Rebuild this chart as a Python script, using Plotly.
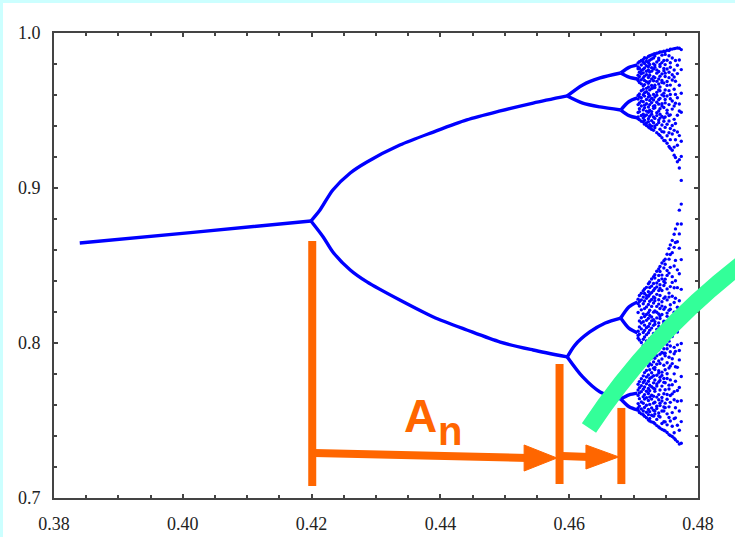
import plotly.graph_objects as go

# ---------------- data ----------------
p1_x = [0.3840, 0.4016, 0.4199]
p1_y = [0.8645, 0.8714, 0.8787]

p2u_x = [0.4199, 0.4213, 0.4233, 0.4260, 0.4286, 0.4337, 0.4389, 0.4441, 0.4493, 0.4544, 0.4597]
p2u_y = [0.8787, 0.8858, 0.8987, 0.9097, 0.9168, 0.9277, 0.9361, 0.9439, 0.9497, 0.9548, 0.9594]
p2l_x = [0.4199, 0.4218, 0.4233, 0.4260, 0.4286, 0.4337, 0.4389, 0.4441, 0.4493, 0.4544, 0.4597]
p2l_y = [0.8787, 0.8684, 0.8587, 0.8471, 0.8394, 0.8277, 0.8168, 0.8084, 0.8006, 0.7955, 0.7910]

p4a_x = [0.4597, 0.4621, 0.4648, 0.4680]
p4a_y = [0.9594, 0.9665, 0.9710, 0.9742]
p4b_x = [0.4597, 0.4621, 0.4648, 0.4680]
p4b_y = [0.9594, 0.9548, 0.9523, 0.9503]
p4c_x = [0.4597, 0.4609, 0.4632, 0.4656, 0.4680]
p4c_y = [0.7910, 0.7987, 0.8071, 0.8129, 0.8161]
p4d_x = [0.4597, 0.4621, 0.4648, 0.4680]
p4d_y = [0.7910, 0.7781, 0.7684, 0.7639]

p8_x = [0.4680, 0.4693, 0.4706]
p8_y = [
    [0.9742, 0.9778, 0.9794],
    [0.9742, 0.9715, 0.9703],
    [0.9503, 0.9558, 0.9581],
    [0.9503, 0.9467, 0.9452],
    [0.8161, 0.8234, 0.8265],
    [0.8161, 0.8094, 0.8065],
    [0.7639, 0.7666, 0.7677],
    [0.7639, 0.7589, 0.7568],
]

cloud_cols = [0.4707, 0.4709, 0.4712, 0.4715, 0.4717, 0.4720, 0.4723, 0.4725, 0.4728, 0.4731,
              0.4733, 0.4736, 0.4739, 0.4741, 0.4744, 0.4747, 0.4749, 0.4752, 0.4755, 0.4757,
              0.4760, 0.4763, 0.4765, 0.4768, 0.4771, 0.4774]
cloud_vals = [
    [0.9806, 0.9781, 0.9769, 0.9728, 0.9704, 0.9693, 0.9597, 0.9574, 0.9538, 0.9487, 0.9459, 0.9446,
     0.8283, 0.8254, 0.8197, 0.8076, 0.8049, 0.8031, 0.7734, 0.7697, 0.7662, 0.7609, 0.7581, 0.7566],
    [0.9815, 0.9773, 0.9747, 0.9719, 0.9681, 0.9607, 0.9589, 0.9548, 0.9512, 0.9493, 0.9441,
     0.8306, 0.8268, 0.8239, 0.8142, 0.8104, 0.8057, 0.8019, 0.7751, 0.7712, 0.7678, 0.7641, 0.7593, 0.7552],
    [0.9823, 0.9794, 0.9758, 0.9737, 0.9698, 0.9672, 0.9627, 0.9583, 0.9561, 0.9529, 0.9468, 0.9431,
     0.8321, 0.8277, 0.8214, 0.8163, 0.8129, 0.8091, 0.8003, 0.7769, 0.7724, 0.7686, 0.7619, 0.7574, 0.7543],
    [0.9829, 0.9811, 0.9766, 0.9743, 0.9711, 0.9658, 0.9636, 0.9602, 0.9556, 0.9504, 0.9476, 0.9452, 0.9426,
     0.8337, 0.8296, 0.8253, 0.8188, 0.8137, 0.8068, 0.8024, 0.7982, 0.7788, 0.7745, 0.7702, 0.7654, 0.7611, 0.7561, 0.7537],
    [0.9841, 0.9803, 0.9774, 0.9722, 0.9694, 0.9667, 0.9615, 0.9593, 0.9534, 0.9517, 0.9463, 0.9437, 0.9412,
     0.8348, 0.8319, 0.8271, 0.8222, 0.8171, 0.8115, 0.8081, 0.8039, 0.7964, 0.7809, 0.7758, 0.7716, 0.7667, 0.7638, 0.7584, 0.7527],
    [0.9837, 0.9818, 0.9789, 0.9753, 0.9731, 0.9686, 0.9643, 0.9621, 0.9571, 0.9544, 0.9496, 0.9471, 0.9419, 0.9403,
     0.8359, 0.8307, 0.8288, 0.8233, 0.8184, 0.8146, 0.8098, 0.8054, 0.8013, 0.7951, 0.7823, 0.7781, 0.7737, 0.7689, 0.7647, 0.7598, 0.7553, 0.7518],
    [0.9849, 0.9809, 0.9782, 0.9761, 0.9713, 0.9676, 0.9652, 0.9608, 0.9587, 0.9523, 0.9489, 0.9447, 0.9428, 0.9394,
     0.8382, 0.8331, 0.8302, 0.8248, 0.8196, 0.8159, 0.8107, 0.8066, 0.7992, 0.7947, 0.7893, 0.7852, 0.7794, 0.7753, 0.7706, 0.7674, 0.7629, 0.7571, 0.7538, 0.7504],
    [0.9853, 0.9824, 0.9797, 0.9748, 0.9727, 0.9688, 0.9633, 0.9596, 0.9565, 0.9538, 0.9502, 0.9463, 0.9409, 0.9387,
     0.8394, 0.8358, 0.8314, 0.8269, 0.8211, 0.8177, 0.8124, 0.8083, 0.8027, 0.7979, 0.7921, 0.7866, 0.7827, 0.7771, 0.7727, 0.7692, 0.7651, 0.7604, 0.7557, 0.7513, 0.7496],
    [0.9858, 0.9832, 0.9776, 0.9754, 0.9703, 0.9661, 0.9642, 0.9579, 0.9551, 0.9493, 0.9476, 0.9434, 0.9398, 0.9378,
     0.8413, 0.8367, 0.8326, 0.8281, 0.8236, 0.8168, 0.8143, 0.8096, 0.8038, 0.7994, 0.7958, 0.7903, 0.7859, 0.7808, 0.7779, 0.7718, 0.7663, 0.7638, 0.7581, 0.7534, 0.7491],
    [0.9863, 0.9839, 0.9801, 0.9767, 0.9718, 0.9692, 0.9647, 0.9604, 0.9568, 0.9527, 0.9514, 0.9458, 0.9421, 0.9372,
     0.8428, 0.8384, 0.8339, 0.8297, 0.8258, 0.8199, 0.8151, 0.8114, 0.8062, 0.8009, 0.7971, 0.7916, 0.7878, 0.7837, 0.7789, 0.7743, 0.7708, 0.7656, 0.7612, 0.7566, 0.7528, 0.7487],
    [0.9866, 0.9851, 0.9793, 0.9779, 0.9712, 0.9663, 0.9648, 0.9587, 0.9531, 0.9518, 0.9449, 0.9401, 0.9388,
     0.8441, 0.8419, 0.8352, 0.8291, 0.8273, 0.8206, 0.8138, 0.8121, 0.8053, 0.7997, 0.7971, 0.7902, 0.7843, 0.7829, 0.7761, 0.7703, 0.7688, 0.7618, 0.7561, 0.7542, 0.7479],
    [0.9869, 0.9813, 0.9762, 0.9741, 0.9688, 0.9617, 0.9598, 0.9553, 0.9486, 0.9467, 0.9409, 0.9357,
     0.8463, 0.8387, 0.8362, 0.8314, 0.8236, 0.8198, 0.8162, 0.8088, 0.8026, 0.7948, 0.7918, 0.7863, 0.7792, 0.7736, 0.7722, 0.7651, 0.7592, 0.7577, 0.7507, 0.7467],
    [0.9873, 0.9838, 0.9826, 0.9752, 0.9703, 0.9671, 0.9632, 0.9569, 0.9541, 0.9497, 0.9438, 0.9423, 0.9346,
     0.8477, 0.8436, 0.8403, 0.8338, 0.8279, 0.8251, 0.8187, 0.8129, 0.8107, 0.8041, 0.7973, 0.7956, 0.7884, 0.7821, 0.7806, 0.7748, 0.7667, 0.7634, 0.7548, 0.7529, 0.7458],
    [0.9877, 0.9797, 0.9784, 0.9721, 0.9652, 0.9627, 0.9578, 0.9512, 0.9476, 0.9451, 0.9379, 0.9338,
     0.8494, 0.8461, 0.8376, 0.8352, 0.8306, 0.8223, 0.8174, 0.8158, 0.8081, 0.8016, 0.7994, 0.7927, 0.7868, 0.7779, 0.7758, 0.7697, 0.7612, 0.7596, 0.7523, 0.7451],
    [0.9878, 0.9857, 0.9809, 0.9736, 0.9694, 0.9681, 0.9601, 0.9544, 0.9529, 0.9462, 0.9406, 0.9364, 0.9324,
     0.8516, 0.8438, 0.8414, 0.8339, 0.8266, 0.8238, 0.8184, 0.8093, 0.8068, 0.8002, 0.7939, 0.7897, 0.7812, 0.7791, 0.7722, 0.7648, 0.7626, 0.7561, 0.7481, 0.7443],
    [0.9882, 0.9823, 0.9771, 0.9757, 0.9677, 0.9612, 0.9593, 0.9519, 0.9452, 0.9431, 0.9361, 0.9306,
     0.8531, 0.8484, 0.8397, 0.8371, 0.8288, 0.8217, 0.8141, 0.8127, 0.8047, 0.7963, 0.7934, 0.7856, 0.7771, 0.7746, 0.7673, 0.7587, 0.7561, 0.7492, 0.7437],
    [0.9881, 0.9862, 0.9796, 0.9741, 0.9719, 0.9632, 0.9571, 0.9549, 0.9458, 0.9391, 0.9305,
     0.8541, 0.8508, 0.8412, 0.8388, 0.8297, 0.8231, 0.8139, 0.8118, 0.8016, 0.7934, 0.7917, 0.7827, 0.7744, 0.7698, 0.7612, 0.7583, 0.7491, 0.7433],
    [0.9889, 0.9824, 0.9768, 0.9687, 0.9662, 0.9594, 0.9502, 0.9483, 0.9411, 0.9337, 0.9289,
     0.8573, 0.8468, 0.8436, 0.8349, 0.8278, 0.8193, 0.8172, 0.8076, 0.7989, 0.7963, 0.7873, 0.7802, 0.7771, 0.7668, 0.7637, 0.7543, 0.7472, 0.7423],
    [0.9887, 0.9853, 0.9747, 0.9712, 0.9628, 0.9538, 0.9467, 0.9432, 0.9356, 0.9268,
     0.8609, 0.8541, 0.8451, 0.8322, 0.8296, 0.8211, 0.8127, 0.8036, 0.8012, 0.7908, 0.7839, 0.7728, 0.7703, 0.7588, 0.7519, 0.7409],
    [0.9895, 0.9808, 0.9779, 0.9664, 0.9603, 0.9576, 0.9472, 0.9384, 0.9312, 0.9256,
     0.8633, 0.8571, 0.8488, 0.8364, 0.8247, 0.8218, 0.8097, 0.7981, 0.7944, 0.7852, 0.7762, 0.7661, 0.7617, 0.7497, 0.7403],
    [0.9896, 0.9839, 0.9731, 0.9697, 0.9561, 0.9509, 0.9403, 0.9348, 0.9244,
     0.8662, 0.8583, 0.8428, 0.8391, 0.8302, 0.8163, 0.8131, 0.8042, 0.7898, 0.7867, 0.7731, 0.7672, 0.7551, 0.7463, 0.7397],
    [0.9899, 0.9761, 0.9716, 0.9637, 0.9529, 0.9443, 0.9372, 0.9264, 0.9212,
     0.8702, 0.8617, 0.8497, 0.8356, 0.8261, 0.8198, 0.8082, 0.7972, 0.7931, 0.7801, 0.7686, 0.7634, 0.7512, 0.7421, 0.7386],
    [0.9901, 0.9823, 0.9689, 0.9604, 0.9547, 0.9416, 0.9311, 0.9197,
     0.8736, 0.8648, 0.8533, 0.8402, 0.8289, 0.8132, 0.8083, 0.7946, 0.7847, 0.7753, 0.7582, 0.7517, 0.7376],
    [0.9903, 0.9792, 0.9738, 0.9582, 0.9469, 0.9361, 0.9276, 0.9169,
     0.8768, 0.8653, 0.8472, 0.8357, 0.8231, 0.8071, 0.7988, 0.7843, 0.7694, 0.7624, 0.7469, 0.7364],
    [0.9902, 0.9826, 0.9663, 0.9542, 0.9497, 0.9338, 0.9183, 0.9129,
     0.8857, 0.8704, 0.8612, 0.8447, 0.8273, 0.8117, 0.7952, 0.7891, 0.7713, 0.7561, 0.7437, 0.7348],
    [0.9893, 0.9764, 0.9611, 0.9489, 0.9302, 0.9204, 0.9049,
     0.8896, 0.8768, 0.8538, 0.8346, 0.8182, 0.7997, 0.7784, 0.7627, 0.7493, 0.7353],
]

x_tick_vals = [0.38, 0.40, 0.42, 0.44, 0.46, 0.48]
x_tick_text = ["0.38", "0.40", "0.42", "0.44", "0.46", "0.48"]
y_tick_vals = [0.7, 0.8, 0.9, 1.0]
y_tick_text = ["0.7", "0.8", "0.9", "1.0"]

# ---------------- figure ----------------
BLUE = "#0000ff"
ORANGE = "#ff6600"
GREEN = "#33ff99"
AXC = "#444444"

fig = go.Figure()

line_sets = [(p1_x, p1_y), (p2u_x, p2u_y), (p2l_x, p2l_y),
             (p4a_x, p4a_y), (p4b_x, p4b_y), (p4c_x, p4c_y), (p4d_x, p4d_y)]
for p8 in p8_y:
    line_sets.append((p8_x, p8))
for xs, ys in line_sets:
    fig.add_trace(go.Scatter(x=xs, y=ys, mode="lines",
                             line=dict(color=BLUE, width=3.4, shape="spline", smoothing=0.8),
                             hoverinfo="skip", showlegend=False))

cx, cy = [], []
for xc, vals in zip(cloud_cols, cloud_vals):
    for v in vals:
        cx.append(xc)
        cy.append(v)
fig.add_trace(go.Scatter(x=cx, y=cy, mode="markers",
                         marker=dict(color=BLUE, size=3.4, line=dict(width=0)),
                         hoverinfo="skip", showlegend=False))

PW, PH, L, T = 644, 465, 54, 33


def px2paper(px, py):
    return (px - L) / PW, (T + PH - py) / PH


shapes = []
# page border (light cyan paper, white inset)
x0, y1 = px2paper(3, 3)
x1, y0 = px2paper(760, 560)
shapes.append(dict(type="rect", xref="paper", yref="paper", x0=x0, x1=x1, y0=y0, y1=y1,
                   fillcolor="white", line=dict(width=0), layer="below"))

# green arc
a0 = px2paper(589, 428)
ac = px2paper(653, 331)
a1 = px2paper(748, 259)
shapes.append(dict(type="path", xref="paper", yref="paper",
                   path=f"M {a0[0]:.4f},{a0[1]:.4f} Q {ac[0]:.4f},{ac[1]:.4f} {a1[0]:.4f},{a1[1]:.4f}",
                   line=dict(color=GREEN, width=17), layer="above"))

# orange markers
for xv, ya, yb in [(0.4201, 0.7077, 0.8658), (0.4585, 0.7090, 0.7865), (0.4681, 0.7090, 0.7581)]:
    shapes.append(dict(type="line", xref="x", yref="y", x0=xv, x1=xv, y0=ya, y1=yb,
                       line=dict(color=ORANGE, width=8), layer="above"))
shapes.append(dict(type="line", xref="x", yref="y", x0=0.4204, x1=0.4536, y0=0.7290, y1=0.7258,
                   line=dict(color=ORANGE, width=8), layer="above"))
shapes.append(dict(type="path", xref="x", yref="y",
                   path="M 0.4530,0.7342 L 0.4581,0.7258 L 0.4530,0.7174 Z",
                   fillcolor=ORANGE, line=dict(color=ORANGE, width=1), layer="above"))
shapes.append(dict(type="line", xref="x", yref="y", x0=0.4589, x1=0.4632, y0=0.7271, y1=0.7265,
                   line=dict(color=ORANGE, width=8), layer="above"))
shapes.append(dict(type="path", xref="x", yref="y",
                   path="M 0.4626,0.7342 L 0.4677,0.7265 L 0.4626,0.7187 Z",
                   fillcolor=ORANGE, line=dict(color=ORANGE, width=1), layer="above"))

annotations = [
    dict(x=0.43691, y=0.7529, xref="x", yref="y", text="<b>A</b>", showarrow=False,
         font=dict(family="Liberation Sans", size=46, color=ORANGE), xanchor="center", yanchor="middle"),
    dict(x=0.44149, y=0.7432, xref="x", yref="y", text="<b>n</b>", showarrow=False,
         font=dict(family="Liberation Sans", size=40, color=ORANGE), xanchor="center", yanchor="middle"),
]

axis_common = dict(showline=True, linecolor=AXC, linewidth=2, mirror="allticks",
                   ticks="inside", ticklen=4, tickwidth=1.5, tickcolor=AXC,
                   showgrid=False, zeroline=False, automargin=False,
                   tickfont=dict(family="Liberation Serif", size=18, color="#222222"))

fig.update_layout(
    width=735, height=537, autosize=False,
    margin=dict(l=L, r=735 - L - PW, t=T, b=537 - T - PH, autoexpand=False),
    paper_bgcolor="#ccffff", plot_bgcolor="white",
    xaxis=dict(range=[0.38, 0.48], tickmode="array", tickvals=x_tick_vals, ticktext=x_tick_text,
               minor=dict(dtick=0.005, tick0=0.38, ticks="inside", ticklen=3, tickcolor=AXC),
               ticklabelstandoff=8, **axis_common),
    yaxis=dict(range=[0.7, 1.0], tickmode="array", tickvals=y_tick_vals, ticktext=y_tick_text,
               minor=dict(dtick=0.02, tick0=0.7, ticks="inside", ticklen=3, tickcolor=AXC),
               ticklabelstandoff=8, **axis_common),
    shapes=shapes, annotations=annotations,
    showlegend=False,
)

fig.write_html("out.html")
